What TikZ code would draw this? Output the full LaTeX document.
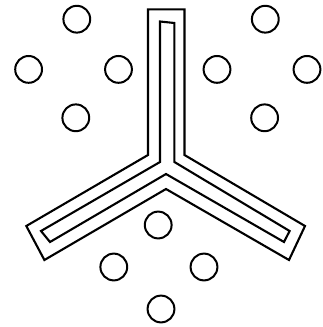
\documentclass[tikz,border=0pt]{standalone}
\usepackage{tikz}
\tikzset{
  outline/.style={black,line width=2.1pt,line join=miter},
  dot/.style={black,line width=2pt}
}

\begin{document}
\begin{tikzpicture}[x=1pt,y=-1pt]
  \useasboundingbox (0,0) rectangle (322,327);
  % outer band of the Y
  \draw[outline] (148,9.4) -- (184.5,9.4) -- (184.5,155) -- (305,226)
    -- (289,260) -- (166,189) -- (44.4,260) -- (26.3,226) -- (148,155) -- cycle;
  % inner band
  \draw[outline] (160,21.5) -- (174.4,23) -- (174.4,162) -- (289.6,231)
    -- (284,242) -- (166,174) -- (50,242) -- (41,231) -- (160,162) -- cycle;
  % four dots in each sector
  \foreach \cx/\cy in {76.8/19.2, 28.6/69.4, 118.5/69.4, 75.8/117.8,
                       265.3/19.2, 217/69.4, 307/69.4, 264.6/117.8,
                       158.2/225, 113.8/267, 204/267, 161/309}
    \draw[dot] (\cx,\cy) circle[radius=13.4];
\end{tikzpicture}
\end{document}
